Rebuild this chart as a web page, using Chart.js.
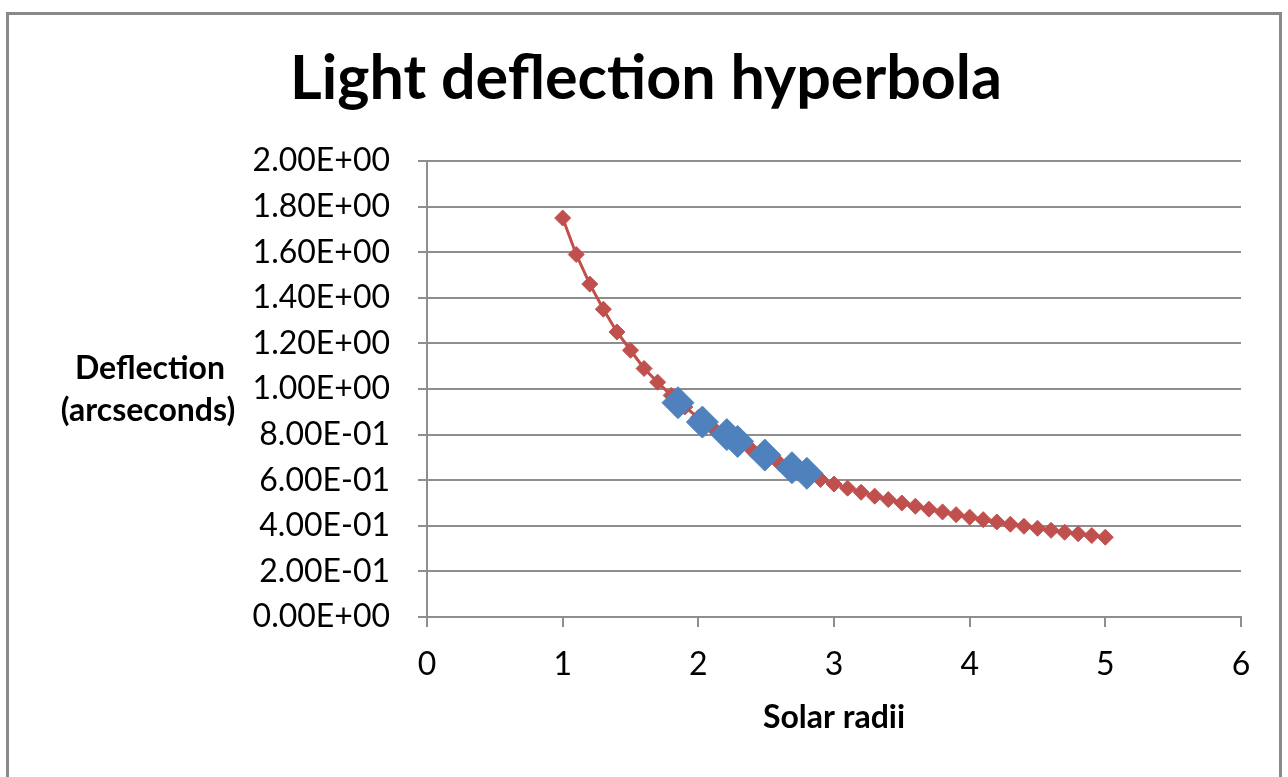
<!DOCTYPE html>
<html>
<head>
<meta charset="utf-8">
<script src="https://cdn.jsdelivr.net/npm/chart.js@4.4.1/dist/chart.umd.min.js"></script>
<style>
  html, body { margin: 0; padding: 0; background: #fff; overflow: hidden; }
  #frame { position: absolute; left: 6px; top: 12px; width: 1276px; height: 800px; border: 3px solid #898989; box-sizing: border-box; }
  #wrap { position: absolute; left: 0; top: 0; width: 1288px; height: 777px; }
  #deflectionChart { display: block; width: 1288px; height: 777px; }
</style>
</head>
<body>
<div id="frame"></div>
<div id="wrap"><canvas id="deflectionChart" width="1288" height="777"></canvas></div>
<script>
// Light deflection data
const radii = [1.0, 1.1, 1.2, 1.3, 1.4, 1.5, 1.6, 1.7, 1.8, 1.9,
               2.0, 2.1, 2.2, 2.3, 2.4, 2.5, 2.6, 2.7, 2.8, 2.9,
               3.0, 3.1, 3.2, 3.3, 3.4, 3.5, 3.6, 3.7, 3.8, 3.9,
               4.0, 4.1, 4.2, 4.3, 4.4, 4.5, 4.6, 4.7, 4.8, 4.9, 5.0];
const deflection = [1.75, 1.59, 1.46, 1.35, 1.25, 1.17, 1.09, 1.03, 0.972, 0.921,
                    0.875, 0.833, 0.795, 0.761, 0.729, 0.700, 0.673, 0.648, 0.625, 0.603,
                    0.583, 0.565, 0.547, 0.530, 0.515, 0.500, 0.486, 0.473, 0.461, 0.449,
                    0.438, 0.427, 0.417, 0.407, 0.398, 0.389, 0.380, 0.372, 0.365, 0.357, 0.350];

const measuredRadii = [1.85, 2.03, 2.21, 2.29, 2.49, 2.69, 2.80];
const measuredDeflection = [0.94, 0.855, 0.80, 0.77, 0.71, 0.655, 0.63];

const yTickLabels = ['0.00E+00', '2.00E-01', '4.00E-01', '6.00E-01', '8.00E-01', '1.00E+00',
                     '1.20E+00', '1.40E+00', '1.60E+00', '1.80E+00', '2.00E+00'];
const xTickLabels = ['0', '1', '2', '3', '4', '5', '6'];

const fontFamily = 'Lato, "Open Sans", sans-serif';

// title and horizontal y axis title drawn by hand so they sit where the original has them
const textPlugin = {
  id: 'chartTexts',
  afterDraw(chart) {
    const ctx = chart.ctx;
    ctx.save();
    ctx.fillStyle = '#000';
    ctx.textAlign = 'center';
    ctx.textBaseline = 'alphabetic';
    ctx.font = 'bold 61px ' + fontFamily;
    ctx.fillText('Light deflection hyperbola', 646, 99);
    ctx.font = 'bold 32px ' + fontFamily;
    ctx.textBaseline = 'middle';
    ctx.fillText('Deflection', 150, 369);
    ctx.fillText('(arcseconds)', 148, 411);
    ctx.restore();
  }
};

const ctx = document.getElementById('deflectionChart').getContext('2d');

const deflectionChart = new Chart(ctx, {
  type: 'scatter',
  data: {
    datasets: [{
      label: 'Measured',
      data: measuredRadii.map((x, i) => ({x: x, y: measuredDeflection[i]})),
      backgroundColor: '#4F81BD',
      borderColor: '#4F81BD',
      pointStyle: 'rectRot',
      pointRadius: 16,
      pointBorderWidth: 1,
      showLine: false,
      order: 0
    }, {
      label: 'Hyperbola',
      data: radii.map((x, i) => ({x: x, y: deflection[i]})),
      backgroundColor: '#C0504D',
      borderColor: '#C0504D',
      borderWidth: 3,
      pointStyle: 'rectRot',
      pointRadius: 8,
      pointBorderWidth: 1,
      showLine: true,
      order: 1
    }]
  },
  options: {
    responsive: false,
    animation: false,
    devicePixelRatio: 1,
    layout: { padding: { left: 0, right: 47, top: 161, bottom: 0 } },
    plugins: {
      legend: { display: false },
      tooltip: { enabled: false },
      title: { display: false }
    },
    scales: {
      x: {
        type: 'linear',
        min: 0,
        max: 6,
        afterFit(scale) { scale.height = 160; },
        ticks: {
          stepSize: 1,
          color: '#000',
          padding: 18,
          font: { family: fontFamily, size: 32 },
          callback: (v, i) => xTickLabels[i]
        },
        grid: { drawOnChartArea: false, drawTicks: true, tickLength: 10, color: '#8e8e8e', lineWidth: 2 },
        border: { color: '#8e8e8e', width: 2 },
        title: {
          display: true,
          text: 'Solar radii',
          color: '#000',
          font: { family: fontFamily, size: 32, weight: 'bold' },
          padding: { top: 0, bottom: 40 }
        }
      },
      y: {
        type: 'linear',
        min: 0,
        max: 2,
        afterFit(scale) { scale.width = 427; },
        ticks: {
          stepSize: 0.2,
          color: '#000',
          padding: 28,
          font: { family: fontFamily, size: 32 },
          callback: (v, i) => yTickLabels[i]
        },
        grid: { color: '#8e8e8e', lineWidth: 2, tickLength: 9 },
        border: { color: '#8e8e8e', width: 2 }
      }
    }
  },
  plugins: [textPlugin]
});
</script>
</body>
</html>
